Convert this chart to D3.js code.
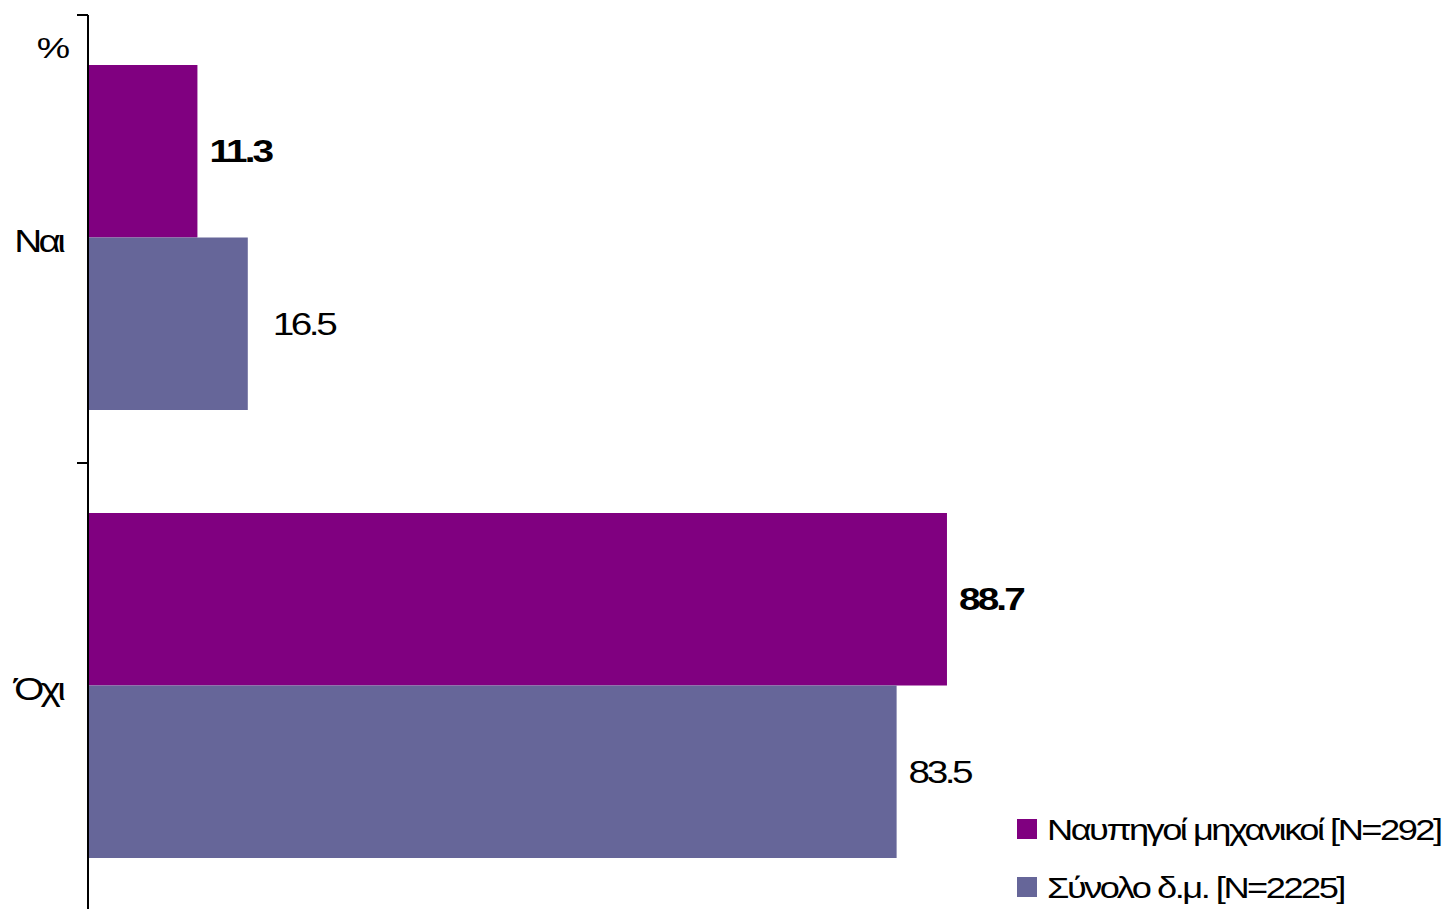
<!DOCTYPE html>
<html>
<head>
<meta charset="utf-8">
<script src="https://cdn.jsdelivr.net/npm/d3@7"></script>
<style>
html,body{margin:0;padding:0;background:#fff;}
svg{display:block;font-family:"Liberation Sans",Arial,sans-serif;}
</style>
</head>
<body>
<svg id="chart" width="1446" height="909"></svg>
<script>
const categories = ["Ναι", "Όχι"];
const seriesNames = ["Ναυπηγοί μηχανικοί [N=292]", "Σύνολο δ.μ. [N=2225]"];
const seriesA = [11.3, 88.7];
const seriesB = [16.5, 83.5];
const colors = ["#800080", "#666699"];
const unitLabel = "%";

const SX = 1.25; // horizontal stretch of the reference typeface
const svg = d3.select("#chart");
const x0 = 88;
const x = d3.scaleLinear().domain([0, 100]).range([x0, x0 + 968.4]);
const y = d3.scaleBand().domain(categories).range([15, 911]).paddingInner(0).paddingOuter(0);
const ySub = d3.scaleBand().domain([0, 1]).range([50, 395]).padding(0);

const data = categories.map((c, i) => ({cat: c, vals: [seriesA[i], seriesB[i]]}));

const groups = svg.selectAll("g.cat").data(data).join("g")
  .attr("class", "cat")
  .attr("transform", d => `translate(0,${y(d.cat)})`);

groups.selectAll("rect").data(d => d.vals.map((v, j) => ({v, j}))).join("rect")
  .attr("x", x(0))
  .attr("y", d => ySub(d.j))
  .attr("width", d => x(d.v) - x(0))
  .attr("height", ySub.bandwidth())
  .attr("fill", d => colors[d.j]);

groups.selectAll("text.val").data(d => d.vals.map((v, j) => ({v, j}))).join("text")
  .attr("class", "val")
  .attr("transform", d => `translate(${x(d.v) + (d.j === 1 && d.v < 50 ? 25 : 12)},${ySub(d.j) + ySub.bandwidth() / 2 + 11}) scale(${SX},1)`)
  .attr("font-size", 31)
  .attr("letter-spacing", d => d.j === 0 ? "-2.3px" : "-2.8px")
  .attr("font-weight", d => d.j === 0 ? "bold" : "normal")
  .attr("fill", "#000")
  .text(d => d.v.toFixed(1));

// axis line and ticks
const ticks = [15, ...categories.map(c => y(c) + y.step())];
svg.append("line")
  .attr("x1", x0).attr("x2", x0)
  .attr("y1", 15).attr("y2", 911)
  .attr("stroke", "#000").attr("stroke-width", 2);
svg.selectAll("line.tick").data(ticks).join("line")
  .attr("class", "tick")
  .attr("x1", x0 - 11).attr("x2", x0)
  .attr("y1", d => d).attr("y2", d => d)
  .attr("stroke", "#000").attr("stroke-width", 2);

// category labels
svg.selectAll("text.cat").data(categories).join("text")
  .attr("class", "cat")
  .attr("transform", d => `translate(62,${y(d) + y.bandwidth() / 2 + 13}) scale(${SX},1)`)
  .attr("text-anchor", "end")
  .attr("font-size", 31)
  .attr("letter-spacing", "-3px")
  .text(d => d);

svg.append("text")
  .attr("transform", `translate(70,58) scale(${SX},1)`)
  .attr("text-anchor", "end")
  .attr("font-size", 30)
  .text(unitLabel);

// legend
const leg = svg.selectAll("g.leg").data(seriesNames).join("g")
  .attr("class", "leg")
  .attr("transform", (d, i) => `translate(1017,${819 + i * 58})`);
leg.append("rect").attr("width", 20).attr("height", 20).attr("fill", (d, i) => colors[i]);
leg.append("text")
  .attr("transform", `translate(30,21) scale(${SX},1)`)
  .attr("font-size", 29)
  .attr("letter-spacing", "-2px")
  .text(d => d);
</script>
</body>
</html>
